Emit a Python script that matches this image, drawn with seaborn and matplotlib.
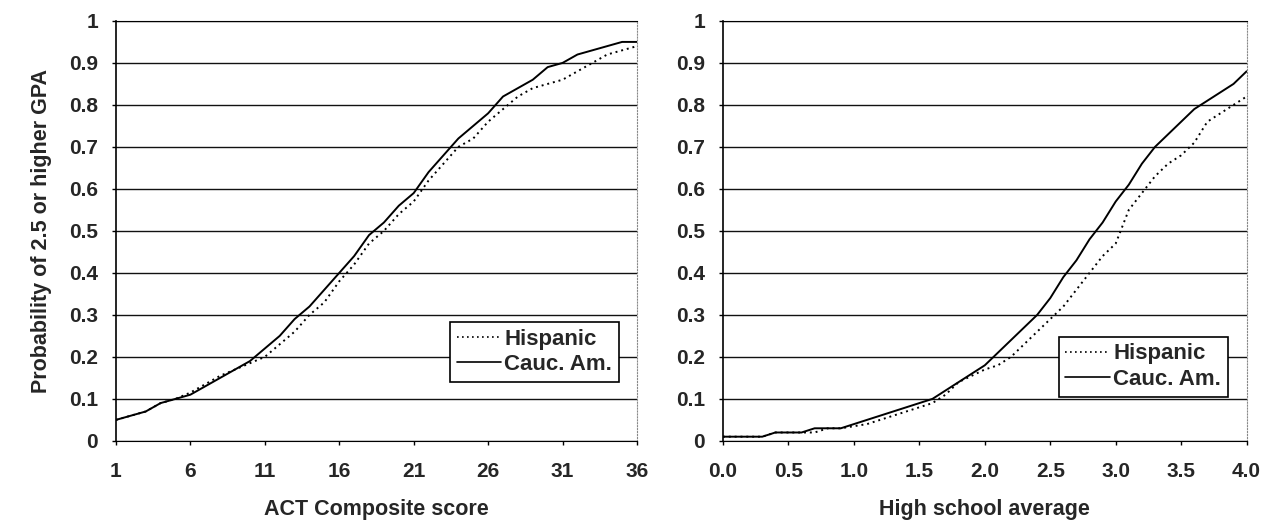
import numpy as np
import pandas as pd
import matplotlib
matplotlib.use("Agg")
import matplotlib.pyplot as plt
import seaborn as sns

# ACT composite score panel
act_scores = list(range(1, 37))
act_hispanic = [0.05, 0.06, 0.07, 0.09, 0.10, 0.115, 0.135, 0.155, 0.17, 0.185,
                0.20, 0.23, 0.26, 0.30, 0.33, 0.38, 0.42, 0.47, 0.50, 0.54,
                0.57, 0.62, 0.66, 0.70, 0.72, 0.76, 0.79, 0.82, 0.84, 0.85,
                0.86, 0.88, 0.90, 0.92, 0.93, 0.94]
act_cauc = [0.05, 0.06, 0.07, 0.09, 0.10, 0.11, 0.13, 0.15, 0.17, 0.19,
            0.22, 0.25, 0.29, 0.32, 0.36, 0.40, 0.44, 0.49, 0.52, 0.56,
            0.59, 0.64, 0.68, 0.72, 0.75, 0.78, 0.82, 0.84, 0.86, 0.89,
            0.90, 0.92, 0.93, 0.94, 0.95, 0.95]

# High school average panel
hs_avg = [round(0.1 * i, 1) for i in range(41)]
hs_hispanic = [0.01, 0.01, 0.01, 0.01, 0.02, 0.02, 0.02, 0.02, 0.03, 0.03,
               0.035, 0.04, 0.05, 0.06, 0.07, 0.08, 0.09, 0.11, 0.14, 0.155,
               0.17, 0.18, 0.20, 0.23, 0.26, 0.29, 0.32, 0.36, 0.40, 0.44,
               0.47, 0.55, 0.59, 0.63, 0.66, 0.68, 0.71, 0.76, 0.78, 0.80,
               0.82]
hs_cauc = [0.01, 0.01, 0.01, 0.01, 0.02, 0.02, 0.02, 0.03, 0.03, 0.03,
           0.04, 0.05, 0.06, 0.07, 0.08, 0.09, 0.10, 0.12, 0.14, 0.16,
           0.18, 0.21, 0.24, 0.27, 0.30, 0.34, 0.39, 0.43, 0.48, 0.52,
           0.57, 0.61, 0.66, 0.70, 0.73, 0.76, 0.79, 0.81, 0.83, 0.85,
           0.88]

groups = ["Hispanic", "Cauc. Am."]
y_ticks = [round(0.1 * i, 1) for i in range(11)]
y_labels = ["0", "0.1", "0.2", "0.3", "0.4", "0.5", "0.6", "0.7", "0.8", "0.9", "1"]

sns.set_style("white")
plt.rcParams["font.family"] = ["Liberation Sans", "DejaVu Sans"]
plt.rcParams["font.weight"] = "bold"

fig = plt.figure(figsize=(12.74, 5.23), dpi=100)
ax1 = fig.add_axes([0.091, 0.157, 0.409, 0.803])
ax2 = fig.add_axes([0.5675, 0.157, 0.411, 0.803])


def draw_panel(ax, x, hisp, cauc, xlabel, xticks, xticklabels, leg_anchor):
    df = pd.DataFrame({
        "x": list(x) * 2,
        "p": list(hisp) + list(cauc),
        "group": [groups[0]] * len(x) + [groups[1]] * len(x),
    })
    for y in y_ticks:
        ax.axhline(y, color="#111111", lw=1.0, zorder=1)
    sns.lineplot(data=df, x="x", y="p", hue="group", style="group",
                 palette={groups[0]: "black", groups[1]: "black"},
                 dashes={groups[0]: (1, 2), groups[1]: ""},
                 linewidth=1.4, ax=ax, zorder=3)
    ax.set_xlim(xticks[0], xticks[-1])
    ax.set_ylim(0, 1)
    ax.set_yticks(y_ticks)
    ax.set_yticklabels(y_labels)
    ax.set_xticks(xticks)
    ax.set_xticklabels(xticklabels)
    ax.tick_params(axis="both", direction="out", length=3, width=1, color="black",
                   labelsize=15, left=True, bottom=True)
    ax.tick_params(axis="x", pad=12)
    ax.tick_params(axis="y", pad=10)
    for t in ax.get_xticklabels() + ax.get_yticklabels():
        t.set_fontweight("bold")
    ax.set_xlabel(xlabel, fontsize=15.5, fontweight="bold", labelpad=13)
    ax.set_ylabel("")
    ax.spines["left"].set_color("black")
    ax.spines["left"].set_linewidth(1.2)
    ax.spines["bottom"].set_color("black")
    ax.spines["top"].set_color("black")
    ax.spines["right"].set_color("#888888")
    ax.spines["right"].set_linestyle(":")
    leg = ax.legend(loc="upper left", bbox_to_anchor=leg_anchor, borderaxespad=0,
                    fancybox=False, framealpha=1, edgecolor="black",
                    prop={"size": 16, "weight": "bold"}, handlelength=2.0,
                    handletextpad=0.15, labelspacing=0.2, borderpad=0.3)
    leg.get_frame().set_linewidth(1.2)
    for h in leg.get_lines():
        h.set_linewidth(1.2)


draw_panel(ax1, act_scores, act_hispanic, act_cauc, "ACT Composite score",
           [1, 6, 11, 16, 21, 26, 31, 36], ["1", "6", "11", "16", "21", "26", "31", "36"],
           (0.641, 0.283))
draw_panel(ax2, hs_avg, hs_hispanic, hs_cauc, "High school average",
           [0.0, 0.5, 1.0, 1.5, 2.0, 2.5, 3.0, 3.5, 4.0],
           ["0.0", "0.5", "1.0", "1.5", "2.0", "2.5", "3.0", "3.5", "4.0"],
           (0.641, 0.248))
ax1.set_ylabel("Probability of 2.5 or higher GPA", fontsize=15.5, fontweight="bold", labelpad=12)

fig.savefig("out.png", dpi=100)
